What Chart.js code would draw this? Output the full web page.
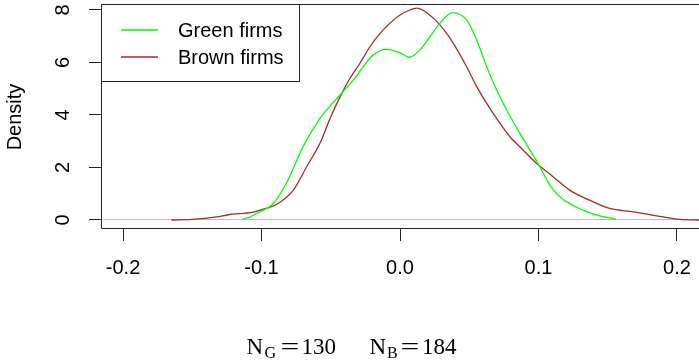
<!DOCTYPE html>
<html>
<head>
<meta charset="utf-8">
<script src="https://cdn.jsdelivr.net/npm/chart.js@4.4.1/dist/chart.umd.min.js"></script>
<style>
  html, body { margin: 0; padding: 0; background: #ffffff; }
</style>
</head>
<body>
<canvas id="density" width="699" height="360"></canvas>
<script>
// kernel density estimates
const GREEN_X = [-0.114, -0.108, -0.1035, -0.0915, -0.082, -0.070, -0.0578, -0.0505, -0.0433, -0.0337,
  -0.0265, -0.0193, -0.0096, 0, 0.0067, 0.0144, 0.0217, 0.0289, 0.038, 0.0481, 0.0554, 0.0626,
  0.0698, 0.077, 0.0866, 0.0939, 0.101, 0.1083, 0.1155, 0.1324, 0.145, 0.156];
const GREEN_Y = [0.02, 0.12, 0.25, 0.63, 1.40, 2.79, 3.87, 4.34, 4.76, 5.33,
  5.84, 6.29, 6.50, 6.37, 6.20, 6.48, 6.98, 7.50, 7.90, 7.62, 6.86, 5.84,
  4.95, 4.19, 3.30, 2.66, 2.03, 1.32, 0.88, 0.37, 0.15, 0.03];

const BROWN_X = [-0.165, -0.150, -0.1324, -0.124, -0.106, -0.101, -0.089, -0.077, -0.0674, -0.0578,
  -0.0505, -0.0433, -0.0361, -0.0289, -0.0217, -0.0144, -0.0072, 0, 0.0072, 0.012, 0.0241, 0.0337,
  0.0385, 0.0481, 0.0554, 0.0626, 0.0722, 0.0794, 0.089, 0.0987, 0.1107, 0.1227, 0.1372, 0.1516,
  0.1685, 0.1829, 0.2022, 0.216];
const BROWN_Y = [0, 0.02, 0.115, 0.2, 0.3, 0.38, 0.6, 1.14, 2.03, 2.92,
  3.87, 4.69, 5.40, 5.97, 6.60, 7.11, 7.50, 7.81, 8.00, 8.07, 7.69, 7.11,
  6.73, 5.84, 5.08, 4.44, 3.68, 3.17, 2.66, 2.15, 1.64, 1.13, 0.75, 0.44,
  0.31, 0.18, 0.02, 0];

const SERIES_LABELS = ["Green firms", "Brown firms"];
const SERIES_COLORS = ["#00FF00", "#A52A2A"];
const X_TICKS = [-0.2, -0.1, 0, 0.1, 0.2];
const Y_TICKS = [0, 2, 4, 6, 8];
const N_GREEN = 130;
const N_BROWN = 184;

const FONT = "'Liberation Sans', Arial, sans-serif";

const toPoints = (xs, ys) => xs.map((x, i) => ({ x: x, y: ys[i] }));

// box round the plot, legend and the sample sizes under the axis
const rDecor = {
  id: "rDecor",
  afterDraw(chart) {
    const ctx = chart.ctx;
    const a = chart.chartArea;
    ctx.save();
    ctx.strokeStyle = "#222";
    ctx.lineWidth = 1;
    ctx.beginPath();
    ctx.moveTo(a.right + 2, a.top - 0.5);
    ctx.lineTo(a.left + 0.5, a.top - 0.5);
    ctx.lineTo(a.left + 0.5, a.bottom - 0.5);
    ctx.lineTo(a.right + 2, a.bottom - 0.5);
    ctx.stroke();

    // legend
    ctx.strokeRect(a.left + 0.5, a.top - 0.5, 198, 77);
    ctx.font = "20px " + FONT;
    ctx.textBaseline = "middle";
    ctx.textAlign = "left";
    const rows = [30, 57];
    SERIES_LABELS.forEach((lab, i) => {
      ctx.strokeStyle = SERIES_COLORS[i];
      ctx.lineWidth = 1.3;
      ctx.beginPath();
      ctx.moveTo(121, rows[i]);
      ctx.lineTo(158, rows[i]);
      ctx.stroke();
      ctx.fillStyle = "#000";
      ctx.fillText(lab, 178, rows[i] + 1);
    });

    // N_G=130   N_B=184
    ctx.fillStyle = "#000";
    ctx.textBaseline = "alphabetic";
    const big = "23px 'Liberation Serif', 'Times New Roman', serif";
    const small = "16px 'Liberation Serif', 'Times New Roman', serif";
    const part = (txt, x, y, f) => {
      ctx.font = f;
      ctx.textAlign = "left";
      ctx.fillText(txt, x, y);
    };
    // the "=" of the original is wider than the Times one
    const eq = (cx, y) => {
      ctx.save();
      ctx.font = big;
      ctx.textAlign = "center";
      ctx.translate(cx, y);
      ctx.scale(1.45, 1);
      ctx.fillText("=", 0, 0);
      ctx.restore();
    };
    part("N", 246.5, 354, big);
    part("G", 264.5, 358, small);
    eq(290, 354);
    part(String(N_GREEN), 301.5, 354, big);
    part("N", 369.5, 354, big);
    part("B", 387, 358, small);
    eq(410, 354);
    part(String(N_BROWN), 422, 354, big);
    ctx.restore();
  },
};

new Chart(document.getElementById("density"), {
  type: "line",
  data: {
    datasets: [
      {
        label: SERIES_LABELS[0],
        data: toPoints(GREEN_X, GREEN_Y),
        borderColor: SERIES_COLORS[0],
        borderWidth: 1.3,
        pointRadius: 0,
        fill: false,
        tension: 0.4,
        cubicInterpolationMode: "monotone",
      },
      {
        label: SERIES_LABELS[1],
        data: toPoints(BROWN_X, BROWN_Y),
        borderColor: SERIES_COLORS[1],
        borderWidth: 1.3,
        pointRadius: 0,
        fill: false,
        tension: 0.4,
        cubicInterpolationMode: "monotone",
      },
    ],
  },
  options: {
    responsive: false,
    animation: false,
    devicePixelRatio: 1,
    layout: { padding: { top: 5, right: 0, bottom: 0, left: 0 } },
    plugins: {
      legend: { display: false },
      tooltip: { enabled: false },
    },
    scales: {
      x: {
        type: "linear",
        min: -0.2159,
        max: 0.2159,
        afterBuildTicks: (scale) => {
          scale.ticks = X_TICKS.map((v) => ({ value: v }));
        },
        afterFit: (scale) => {
          scale.height = 131;
          scale.paddingLeft = 0;
          scale.paddingRight = 0;
        },
        border: { display: false },
        grid: {
          drawOnChartArea: false,
          drawTicks: true,
          tickLength: 12,
          tickColor: "#222",
        },
        ticks: {
          color: "#000",
          padding: 15,
          maxRotation: 0,
          font: { family: FONT, size: 20 },
          callback: (v) => Number(v).toFixed(1),
        },
      },
      y: {
        type: "linear",
        min: -0.343,
        max: 8.19,
        afterBuildTicks: (scale) => {
          scale.ticks = Y_TICKS.map((v) => ({ value: v }));
        },
        afterFit: (scale) => {
          scale.width = 101;
          scale.paddingTop = 0;
          scale.paddingBottom = 0;
        },
        border: { display: false },
        grid: {
          drawOnChartArea: true,
          drawTicks: true,
          tickLength: 12,
          tickColor: "#222",
          color: (c) => (c.tick && c.tick.value === 0 ? "#BEBEBE" : "rgba(0,0,0,0)"),
        },
        ticks: {
          color: "#000",
          padding: 20,
          minRotation: 90,
          maxRotation: 90,
          crossAlign: "center",
          font: { family: FONT, size: 20 },
          callback: (v) => String(v),
        },
        title: {
          display: true,
          text: "Density",
          color: "#000",
          font: { family: FONT, size: 20 },
          padding: { top: 3, bottom: 0 },
        },
      },
    },
  },
  plugins: [rDecor],
});
</script>
</body>
</html>
